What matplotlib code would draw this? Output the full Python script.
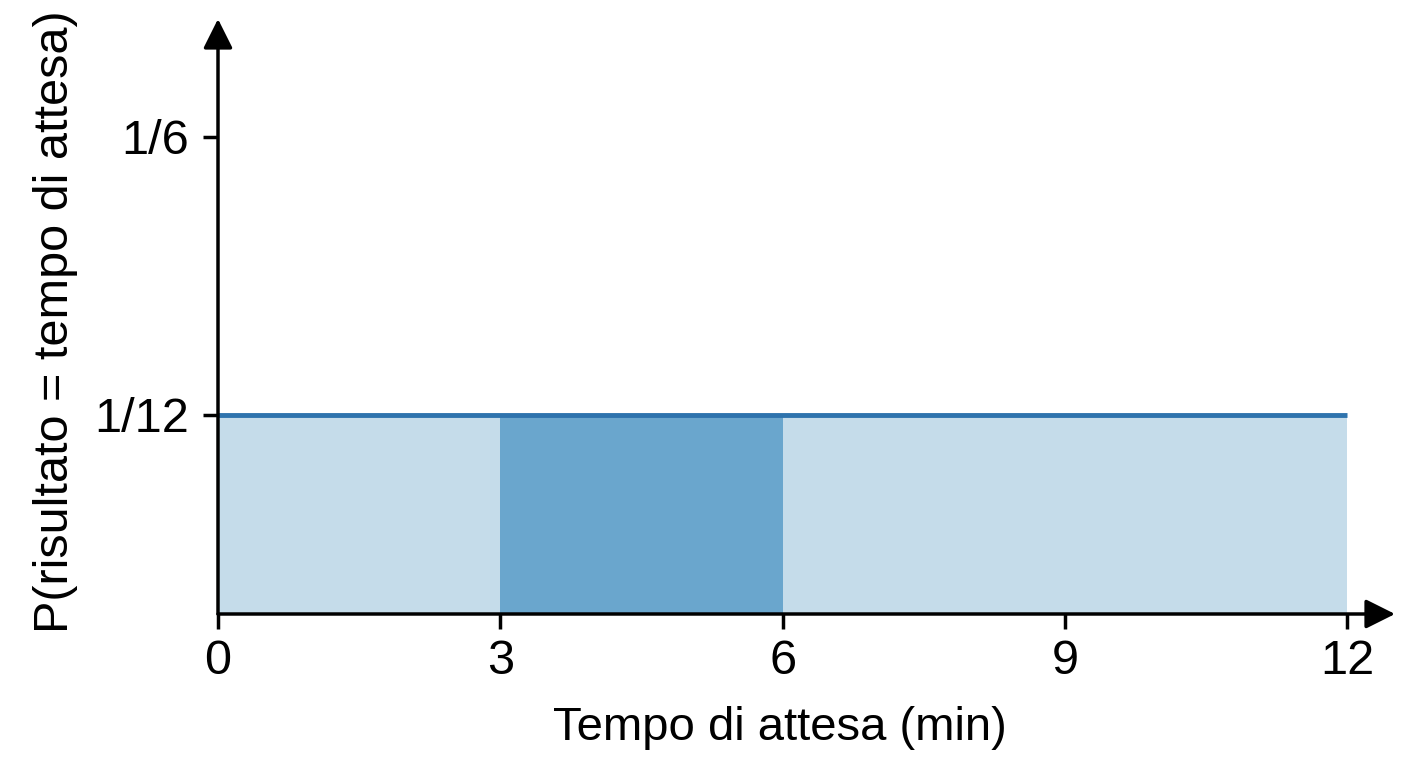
import matplotlib
matplotlib.use('Agg')
import matplotlib.pyplot as plt

plt.rcParams['font.family'] = ['Liberation Sans', 'DejaVu Sans']

# data
a, b = 0, 12
density = 1 / 12
highlight = (3, 6)
x_ticks = [0, 3, 6, 9, 12]
y_ticks = [1 / 12, 1 / 6]
y_tick_labels = ['1/12', '1/6']

light = '#c5dcea'
dark = '#6aa6cd'
line_col = '#2e73ad'

fig = plt.figure(figsize=(14.08, 7.68), dpi=100)
ax = fig.add_axes([218 / 1408, 154 / 768, 1177 / 1408, 595 / 768])

ax.fill_between([a, b], 0, density, color=light, lw=0)
ax.fill_between(list(highlight), 0, density, color=dark, lw=0)
ax.plot([a, b], [density, density], color=line_col, lw=3.5, solid_capstyle='butt')

ax.set_xlim(0, 12.505)
ax.set_ylim(0.02368, 0.2020)

for s in ax.spines.values():
    s.set_visible(False)

arrow = dict(arrowstyle='-|>,head_length=0.6,head_width=0.3', lw=2.5,
             color='black', mutation_scale=30, shrinkA=0, shrinkB=0)
ax.annotate('', xy=(1, 0), xytext=(0, 0), xycoords='axes fraction',
            textcoords='axes fraction', arrowprops=arrow)
ax.annotate('', xy=(0, 1), xytext=(0, 0), xycoords='axes fraction',
            textcoords='axes fraction', arrowprops=arrow)

ax.set_xticks(x_ticks)
ax.set_xticklabels([str(v) for v in x_ticks])
ax.set_yticks(y_ticks)
ax.set_yticklabels(y_tick_labels)
ax.tick_params(axis='both', direction='out', length=11, width=2.5,
               labelsize=35, color='black')
ax.tick_params(axis='x', pad=7)
ax.tick_params(axis='y', pad=10)

ax.set_xlabel('Tempo di attesa (min)', fontsize=34)
ax.set_ylabel('P(risultato = tempo di attesa)', fontsize=35)
ax.xaxis.set_label_coords(0.477, -0.155)
ax.yaxis.set_label_coords(-0.119, 0.492)

fig.savefig('out.png', dpi=100)
